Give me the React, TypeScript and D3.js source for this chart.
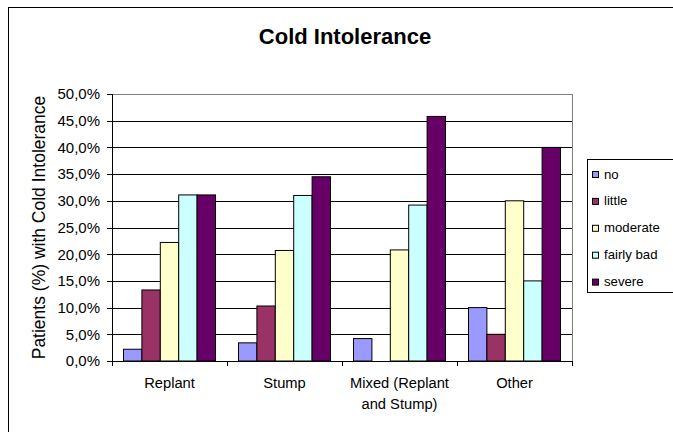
import React from "react";
import * as d3 from "d3";

const categories = ["Replant", "Stump", "Mixed (Replant and Stump)", "Other"];
const categoryLines = [["Replant"], ["Stump"], ["Mixed (Replant", "and Stump)"], ["Other"]];
const seriesNames = ["no", "little", "moderate", "fairly bad", "severe"];
const seriesColors = ["#9999FF", "#993366", "#FFFFCC", "#CCFFFF", "#660066"];
const noValues = [2.2, 3.4, 4.2, 10];
const littleValues = [13.3, 10.3, 0, 5];
const moderateValues = [22.2, 20.7, 20.8, 30];
const fairlyBadValues = [31.1, 31.0, 29.2, 15];
const severeValues = [31.1, 34.5, 45.8, 40];
const yTicks = [0, 5, 10, 15, 20, 25, 30, 35, 40, 45, 50];

const seriesValues = [noValues, littleValues, moderateValues, fairlyBadValues, severeValues];

export default function App() {
  const W = 673, H = 432;
  const left = 112, right = 572, top = 94, bottom = 361;
  const x0 = d3.scaleBand().domain(categories).range([left, right]).paddingInner(0).paddingOuter(0);
  const bw = x0.bandwidth();
  const groupW = bw * 0.8;
  const x1 = d3.scaleBand().domain(seriesNames).range([0, groupW]).padding(0);
  const y = d3.scaleLinear().domain([0, 50]).range([bottom, top]);
  const font = "'Liberation Sans', Arial, sans-serif";
  const fmt = (v: number) => v.toFixed(1).replace(".", ",") + "%";

  return (
    <svg width={W} height={H} style={{ position: "absolute", left: 0, top: 0 }} fontFamily={font}>
      <rect x={0} y={0} width={W} height={H} fill="#fff" />
      <rect x={8.5} y={7.5} width={720} height={500} fill="none" stroke="#000" strokeWidth={1} />
      <text x={345} y={44} textAnchor="middle" fontSize={22} fontWeight="bold">Cold Intolerance</text>
      {/* gridlines */}
      {yTicks.map((t) => (
        <line key={t} x1={left} x2={right} y1={Math.round(y(t)) + 0.5} y2={Math.round(y(t)) + 0.5}
          stroke={t === 50 ? "#808080" : "#000"} strokeWidth={1} />
      ))}
      <line x1={right + 0.5} x2={right + 0.5} y1={top} y2={bottom} stroke="#808080" />
      {/* bars */}
      {seriesValues.map((vals, si) =>
        categories.map((c, ci) => {
          const v = vals[ci];
          if (v <= 0) return null;
          const bx = (x0(c) as number) + (bw - groupW) / 2 + (x1(seriesNames[si]) as number);
          return (
            <rect key={si + "-" + ci} x={bx} y={y(v)} width={x1.bandwidth()} height={bottom - y(v)}
              fill={seriesColors[si]} stroke="#000" strokeWidth={1} />
          );
        })
      )}
      {/* axes */}
      <line x1={left + 0.5} x2={left + 0.5} y1={top} y2={bottom + 0.5} stroke="#000" />
      <line x1={left} x2={right} y1={bottom + 0.5} y2={bottom + 0.5} stroke="#000" />
      {yTicks.map((t) => (
        <g key={"yt" + t}>
          <line x1={left - 5} x2={left} y1={Math.round(y(t)) + 0.5} y2={Math.round(y(t)) + 0.5} stroke="#000" />
          <text x={left - 12} y={y(t) + 5.3} textAnchor="end" fontSize={15}>{fmt(t)}</text>
        </g>
      ))}
      {categories.map((c) => (
        <line key={"xt" + c} x1={Math.round(x0(c) as number) + 0.5} x2={Math.round(x0(c) as number) + 0.5}
          y1={bottom} y2={bottom + 5} stroke="#000" />
      ))}
      <line x1={right + 0.5} x2={right + 0.5} y1={bottom} y2={bottom + 5} stroke="#000" />
      {categories.map((c, ci) => (
        <text key={"xl" + c} x={(x0(c) as number) + bw / 2} y={388.3} textAnchor="middle" fontSize={14.7}>
          {categoryLines[ci].map((ln, li) => (
            <tspan key={li} x={(x0(c) as number) + bw / 2} dy={li === 0 ? 0 : 21}>{ln}</tspan>
          ))}
        </text>
      ))}
      <text transform={`translate(45,${(top + bottom) / 2}) rotate(-90)`} textAnchor="middle" fontSize={17.5}>
        Patients (%) with Cold Intolerance
      </text>
      {/* legend */}
      <rect x={587.5} y={159.5} width={100} height={133} fill="#fff" stroke="#000" />
      {seriesNames.map((s, i) => (
        <g key={"lg" + s}>
          <rect x={592.5} y={171.5 + i * 26.9} width={6} height={6} fill={seriesColors[i]} stroke="#000" />
          <text x={604} y={178.5 + i * 26.9} fontSize={13.2}>{s}</text>
        </g>
      ))}
    </svg>
  );
}
